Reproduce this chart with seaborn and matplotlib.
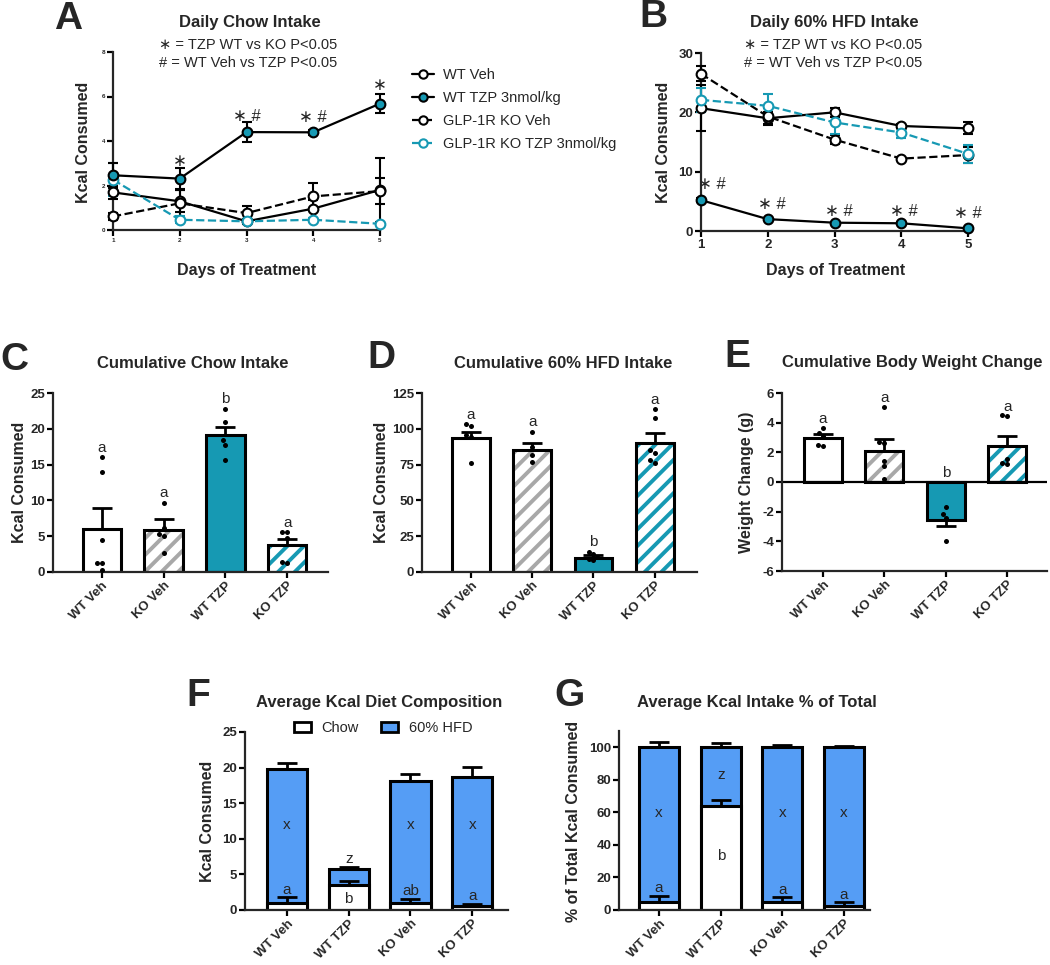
import pandas as pd
import matplotlib.pyplot as plt
import seaborn as sns
from matplotlib.lines import Line2D
from matplotlib.patches import Rectangle, Patch

# ---------------- data ----------------
days = [1, 2, 3, 4, 5]

# A: daily chow intake (kcal), mean and SEM
chow_wt_veh = [1.69, 1.29, 0.39, 0.96, 1.80]
chow_wt_veh_sem = [0.30, 0.50, 0.10, 0.40, 1.44]
chow_wt_tzp = [2.46, 2.31, 4.40, 4.39, 5.68]
chow_wt_tzp_sem = [0.55, 0.48, 0.45, 0.10, 0.43]
chow_ko_veh = [0.61, 1.20, 0.76, 1.51, 1.75]
chow_ko_veh_sem = [0.15, 0.60, 0.30, 0.60, 0.60]
chow_ko_tzp = [2.26, 0.46, 0.39, 0.46, 0.28]
chow_ko_tzp_sem = [0.75, 0.15, 0.05, 0.10, 0.05]
stats_a_day = [2, 3, 4, 5]
stats_a_y = [3.1, 5.1, 5.05, 6.5]
stats_a_txt = ['∗', '∗ #', '∗ #', '∗']

# B: daily 60% HFD intake (kcal)
hfd_wt_veh = [20.7, 19.0, 20.0, 17.7, 17.3]
hfd_wt_veh_sem = [3.9, 1.0, 0.8, 0.4, 1.0]
hfd_wt_tzp = [5.2, 2.0, 1.4, 1.3, 0.45]
hfd_wt_tzp_sem = [0.3, 0.2, 0.2, 0.2, 0.1]
hfd_ko_veh = [26.5, 19.3, 15.4, 12.2, 12.8]
hfd_ko_veh_sem = [1.3, 1.5, 0.8, 0.3, 1.3]
hfd_ko_tzp = [22.1, 21.1, 18.3, 16.6, 13.0]
hfd_ko_tzp_sem = [2.0, 2.0, 2.0, 1.0, 1.5]
stats_b_day = [1.16, 2.06, 3.06, 4.04, 5.0]
stats_b_y = [7.8, 4.4, 3.3, 3.3, 3.0]
stats_b_txt = ['∗ #', '∗ #', '∗ #', '∗ #', '∗ #']

# C-E: cumulative values
groups = ['WT Veh', 'KO Veh', 'WT TZP', 'KO TZP']
cum_chow = [6.07, 5.84, 19.16, 3.74]
cum_chow_sem = [2.93, 1.56, 1.14, 0.93]
cum_chow_pts = [[16.1, 14.0, 4.4, 1.26, 1.26, 0.3], [9.7, 6.1, 5.3, 5.0, 2.7],
                [22.8, 21.0, 18.4, 17.8, 15.7], [5.6, 5.6, 4.7, 1.4, 1.2]]
cum_chow_letters = ['a', 'a', 'b', 'a']
cum_chow_letter_y = [17.3, 11.0, 24.1, 6.9]

cum_hfd = [93.9, 85.3, 10.0, 90.4]
cum_hfd_sem = [4.2, 4.7, 1.7, 7.0]
cum_hfd_pts = [[103.3, 102.0, 95.8, 94.6, 75.9], [98.1, 87.6, 81.8, 77.1],
               [14.0, 12.9, 10.5, 9.3, 8.2], [113.8, 107.5, 85.0, 83.0, 76.0, 78.0]]
cum_hfd_letters = ['a', 'a', 'b', 'a']
cum_hfd_letter_y = [109.8, 104.4, 21.0, 120.0]

bw_change = [3.0, 2.12, -2.57, 2.46]
bw_change_sem = [0.23, 0.77, 0.39, 0.66]
bw_change_pts = [[3.63, 3.3, 3.07, 2.5, 2.46], [5.06, 2.73, 2.62, 1.44, 1.1, 0.23],
                 [-1.67, -2.19, -2.46, -4.0], [4.49, 4.42, 1.56, 1.26, 1.22]]
bw_letters = ['a', 'a', 'b', 'a']
bw_letter_y = [4.24, 5.67, 0.59, 5.06]

# F-G: diet composition
comp_groups = ['WT Veh', 'WT TZP', 'KO Veh', 'KO TZP']
comp_chow = [1.03, 3.5, 0.93, 0.6]
comp_chow_sem = [0.75, 0.6, 0.57, 0.24]
comp_total = [19.86, 5.8, 18.13, 18.7]
comp_total_sem = [0.84, 0.27, 1.03, 1.4]
comp_chow_letters = ['a', 'b', 'ab', 'a']
comp_chow_letter_y = [2.8, 1.6, 2.6, 2.0]
comp_hfd_letters = ['x', 'z', 'x', 'x']
comp_hfd_letter_y = [11.9, 7.2, 11.9, 11.9]

pct_chow = [5.2, 64.0, 5.2, 2.7]
pct_chow_sem = [3.5, 3.4, 2.6, 2.0]
pct_total = [100, 100, 100, 100]
pct_total_sem = [3.1, 2.7, 1.6, 1.0]
pct_chow_letters = ['a', 'b', 'a', 'a']
pct_chow_letter_y = [13.4, 33.4, 12.4, 9.3]
pct_hfd_letters = ['x', 'z', 'x', 'x']
pct_hfd_letter_y = [59.4, 82.9, 59.4, 59.4]

# ---------------- style ----------------
TEAL = '#1699B3'
BLUE = '#559DF5'
GRAY = '#A8A8A8'

sns.set_theme(style='ticks')
plt.rcParams['font.family'] = ['Liberation Sans', 'DejaVu Sans']
plt.rcParams['hatch.linewidth'] = 2.8
plt.rcParams['axes.linewidth'] = 1.6

W, H = 1050, 965
fig = plt.figure(figsize=(W / 100, H / 100), dpi=100)


def add_ax(left, right, top, bottom):
    return fig.add_axes([left / W, 1 - bottom / H, (right - left) / W, (bottom - top) / H])


def ftext(x, y, s, **kw):
    kw.setdefault('ha', 'center')
    kw.setdefault('va', 'center')
    fig.text(x / W, 1 - y / H, s, **kw)


def finish_axes(ax, yticks, ylim, tick_size):
    sns.despine(ax=ax)
    ax.set(xlabel='', ylabel='')
    ax.set_ylim(ylim)
    ax.set_yticks(yticks)
    ax.set_yticklabels([str(t) for t in yticks], fontweight='bold', fontsize=tick_size)
    ax.tick_params(width=1.6, length=4, pad=1.5, color='black', direction='out')
    ax.grid(False)


series_style = {
    'WT Veh': dict(line='black', ls='-', face='white', edge='black'),
    'WT TZP 3nmol/kg': dict(line='black', ls='-', face=TEAL, edge='black'),
    'GLP-1R KO Veh': dict(line='black', ls='--', face='white', edge='black'),
    'GLP-1R KO TZP 3nmol/kg': dict(line=TEAL, ls='--', face='white', edge=TEAL),
}


def line_panel(ax, series, ylim, yticks, tick_size, stat_x, stat_y, stat_txt):
    for name, y, e in series:
        st = series_style[name]
        df = pd.DataFrame({'Day': days, 'Kcal': y})
        ax.errorbar(days, y, yerr=e, fmt='none', ecolor=st['line'], elinewidth=1.5,
                    capsize=3.5, capthick=1.5, clip_on=False, zorder=2.6)
        sns.lineplot(data=df, x='Day', y='Kcal', ax=ax, errorbar=None, color=st['line'],
                     linestyle=st['ls'], linewidth=1.6, marker='o', markersize=7,
                     markerfacecolor=st['face'], markeredgecolor=st['edge'],
                     markeredgewidth=1.5, clip_on=False, zorder=3)
    for x, y, t in zip(stat_x, stat_y, stat_txt):
        ax.text(x, y, t, ha='center', va='center', fontsize=12)
    ax.set_xlim(1, 5)
    ax.set_xticks(days)
    ax.set_xticklabels([str(d) for d in days], fontweight='bold', fontsize=tick_size)
    finish_axes(ax, yticks, ylim, tick_size)


def bar_panel(ax, means, sems, pts, letters, letter_y, ylim, yticks, xlim):
    df = pd.DataFrame({'Group': groups, 'Value': means})
    fills = {'WT Veh': 'white', 'KO Veh': 'white', 'WT TZP': TEAL, 'KO TZP': 'white'}
    hatches = {'KO Veh': GRAY, 'KO TZP': TEAL}
    ax.errorbar(range(len(groups)), means, yerr=sems, fmt='none', ecolor='black',
                elinewidth=2, capsize=7.5, capthick=2, zorder=1.5)
    sns.barplot(data=df, x='Group', y='Value', hue='Group', order=groups, hue_order=groups,
                palette=fills, saturation=1, width=0.62, edgecolor='black', linewidth=2.2,
                errorbar=None, legend=False, ax=ax, zorder=2)
    for p in list(ax.patches):
        g = groups[int(round(p.get_x() + p.get_width() / 2))]
        if g in hatches:
            p.set_edgecolor(hatches[g])
            p.set_hatch('//')
            p.set_linewidth(0)
            ax.add_patch(Rectangle(p.get_xy(), p.get_width(), p.get_height(), fill=False,
                                   edgecolor='black', linewidth=2.2, zorder=2.1))
    pdf = pd.DataFrame({'Group': [g for g, v in zip(groups, pts) for _ in v],
                        'Value': [x for v in pts for x in v]})
    sns.swarmplot(data=pdf, x='Group', y='Value', order=groups, color='black', size=3.6,
                  ax=ax, zorder=4)
    for i, (t, y) in enumerate(zip(letters, letter_y)):
        ax.text(i, y, t, ha='center', va='center', fontsize=11, zorder=5)
    ax.set_xlim(xlim)
    ax.set_xticks(range(len(groups)))
    ax.set_xticklabels(groups, rotation=45, ha='right', rotation_mode='anchor',
                       fontweight='bold', fontsize=9.5)
    finish_axes(ax, yticks, ylim, 9.5)


def stacked_panel(ax, chow, chow_sem, total, total_sem, lo_let, lo_y, hi_let, hi_y,
                  ylim, yticks, xlim):
    df = pd.DataFrame({'Group': comp_groups, 'Chow': chow, 'Total': total})
    x = range(len(comp_groups))
    ax.errorbar(x, total, yerr=total_sem, fmt='none', ecolor='black', elinewidth=2,
                capsize=7.5, capthick=2, zorder=0.5)
    sns.barplot(data=df, x='Group', y='Total', order=comp_groups, color=BLUE, saturation=1,
                width=0.65, edgecolor='black', linewidth=2.2, errorbar=None, ax=ax, zorder=1)
    ax.errorbar(x, chow, yerr=chow_sem, fmt='none', ecolor='black', elinewidth=2,
                capsize=7.5, capthick=2, zorder=1.5)
    sns.barplot(data=df, x='Group', y='Chow', order=comp_groups, color='white', saturation=1,
                width=0.65, edgecolor='black', linewidth=2.2, errorbar=None, ax=ax, zorder=2)
    for i in x:
        ax.text(i, lo_y[i], lo_let[i], ha='center', va='center', fontsize=11, zorder=5)
        ax.text(i, hi_y[i], hi_let[i], ha='center', va='center', fontsize=11, zorder=5)
    ax.set_xlim(xlim)
    ax.set_xticks(list(x))
    ax.set_xticklabels(comp_groups, rotation=45, ha='right', rotation_mode='anchor',
                       fontweight='bold', fontsize=9.5)
    finish_axes(ax, yticks, ylim, 9.5)


# ---------------- panel A ----------------
axA = add_ax(113, 380, 52, 230)
line_panel(axA, [('WT Veh', chow_wt_veh, chow_wt_veh_sem),
                 ('GLP-1R KO Veh', chow_ko_veh, chow_ko_veh_sem),
                 ('GLP-1R KO TZP 3nmol/kg', chow_ko_tzp, chow_ko_tzp_sem),
                 ('WT TZP 3nmol/kg', chow_wt_tzp, chow_wt_tzp_sem)],
           (0, 8), [0, 2, 4, 6, 8], 4.5, stats_a_day, stats_a_y, stats_a_txt)
ftext(68, 19, 'A', fontsize=28, fontweight='bold')
ftext(250, 22, 'Daily Chow Intake', fontsize=12, fontweight='bold')
ftext(248, 45, '∗ = TZP WT vs KO P<0.05', fontsize=10.5)
ftext(248, 63, '# = WT Veh vs TZP P<0.05', fontsize=10.5)
ftext(83, 142, 'Kcal Consumed', rotation=90, fontsize=11.5, fontweight='bold')
ftext(247, 270, 'Days of Treatment', fontsize=11.5, fontweight='bold')

handles = []
for name, st in series_style.items():
    handles.append(Line2D([], [], color=st['line'], linestyle=st['ls'], linewidth=1.6,
                          marker='o', markersize=6, markerfacecolor=st['face'],
                          markeredgecolor=st['edge'], markeredgewidth=1.5))
fig.legend(handles, list(series_style.keys()), loc='upper left',
           bbox_to_anchor=(405 / W, 1 - 61 / H), frameon=False, fontsize=10.5,
           handlelength=1.5, handletextpad=0.6, labelspacing=0.62, borderpad=0)

# ---------------- panel B ----------------
axB = add_ax(701, 968, 53, 231)
line_panel(axB, [('WT Veh', hfd_wt_veh, hfd_wt_veh_sem),
                 ('GLP-1R KO Veh', hfd_ko_veh, hfd_ko_veh_sem),
                 ('GLP-1R KO TZP 3nmol/kg', hfd_ko_tzp, hfd_ko_tzp_sem),
                 ('WT TZP 3nmol/kg', hfd_wt_tzp, hfd_wt_tzp_sem)],
           (0, 30), [0, 10, 20, 30], 9.5, stats_b_day, stats_b_y, stats_b_txt)
ftext(653, 17, 'B', fontsize=28, fontweight='bold')
ftext(834, 22, 'Daily 60% HFD Intake', fontsize=12, fontweight='bold')
ftext(833, 45, '∗ = TZP WT vs KO P<0.05', fontsize=10.5)
ftext(833, 63, '# = WT Veh vs TZP P<0.05', fontsize=10.5)
ftext(663, 142, 'Kcal Consumed', rotation=90, fontsize=11.5, fontweight='bold')
ftext(836, 270, 'Days of Treatment', fontsize=11.5, fontweight='bold')

# ---------------- panels C, D, E ----------------
axC = add_ax(53, 328, 393, 572)
bar_panel(axC, cum_chow, cum_chow_sem, cum_chow_pts, cum_chow_letters, cum_chow_letter_y,
          (0, 25), [0, 5, 10, 15, 20, 25], (-0.79, 3.66))
ftext(14, 360, 'C', fontsize=28, fontweight='bold')
ftext(193, 363, 'Cumulative Chow Intake', fontsize=12, fontweight='bold')
ftext(20, 482, 'Kcal Consumed', rotation=90, fontsize=11.5, fontweight='bold')

axD = add_ax(422, 697, 393, 572)
bar_panel(axD, cum_hfd, cum_hfd_sem, cum_hfd_pts, cum_hfd_letters, cum_hfd_letter_y,
          (0, 125), [0, 25, 50, 75, 100, 125], (-0.8, 3.69))
ftext(381, 358, 'D', fontsize=28, fontweight='bold')
ftext(563, 363, 'Cumulative 60% HFD Intake', fontsize=12, fontweight='bold')
ftext(382, 482, 'Kcal Consumed', rotation=90, fontsize=11.5, fontweight='bold')

axE = add_ax(782, 1047, 393, 571)
bar_panel(axE, bw_change, bw_change_sem, bw_change_pts, bw_letters, bw_letter_y,
          (-6, 6), [-6, -4, -2, 0, 2, 4, 6], (-0.67, 3.65))
axE.axhline(0, color='black', linewidth=1.6, zorder=2.5)
ftext(737, 357, 'E', fontsize=28, fontweight='bold')
ftext(912, 363, 'Cumulative Body Weight Change', fontsize=12, fontweight='bold')
ftext(747, 482, 'Weight Change (g)', rotation=90, fontsize=11.5, fontweight='bold')

# ---------------- panels F, G ----------------
axF = add_ax(245, 508, 732, 910)
stacked_panel(axF, comp_chow, comp_chow_sem, comp_total, comp_total_sem,
              comp_chow_letters, comp_chow_letter_y, comp_hfd_letters, comp_hfd_letter_y,
              (0, 25), [0, 5, 10, 15, 20, 25], (-0.68, 3.58))
ftext(198, 696, 'F', fontsize=28, fontweight='bold')
ftext(379, 702, 'Average Kcal Diet Composition', fontsize=12, fontweight='bold')
ftext(208, 821, 'Kcal Consumed', rotation=90, fontsize=11.5, fontweight='bold')
leg_handles = [Patch(facecolor='white', edgecolor='black', linewidth=2),
               Patch(facecolor=BLUE, edgecolor='black', linewidth=2)]
fig.legend(leg_handles, ['Chow', '60% HFD'], loc='center', ncol=2,
           bbox_to_anchor=(383 / W, 1 - 728 / H), frameon=False, fontsize=10.5,
           handlelength=1.2, handleheight=0.7, columnspacing=1.5, handletextpad=0.7)

axG = add_ax(619, 870, 731, 910)
stacked_panel(axG, pct_chow, pct_chow_sem, pct_total, pct_total_sem,
              pct_chow_letters, pct_chow_letter_y, pct_hfd_letters, pct_hfd_letter_y,
              (0, 110), [0, 20, 40, 60, 80, 100], (-0.65, 3.42))
ftext(569, 696, 'G', fontsize=28, fontweight='bold')
ftext(757, 702, 'Average Kcal Intake % of Total', fontsize=12, fontweight='bold')
ftext(573, 821, '% of Total Kcal Consumed', rotation=90, fontsize=11.5, fontweight='bold')

fig.savefig('out.png', dpi=100)
